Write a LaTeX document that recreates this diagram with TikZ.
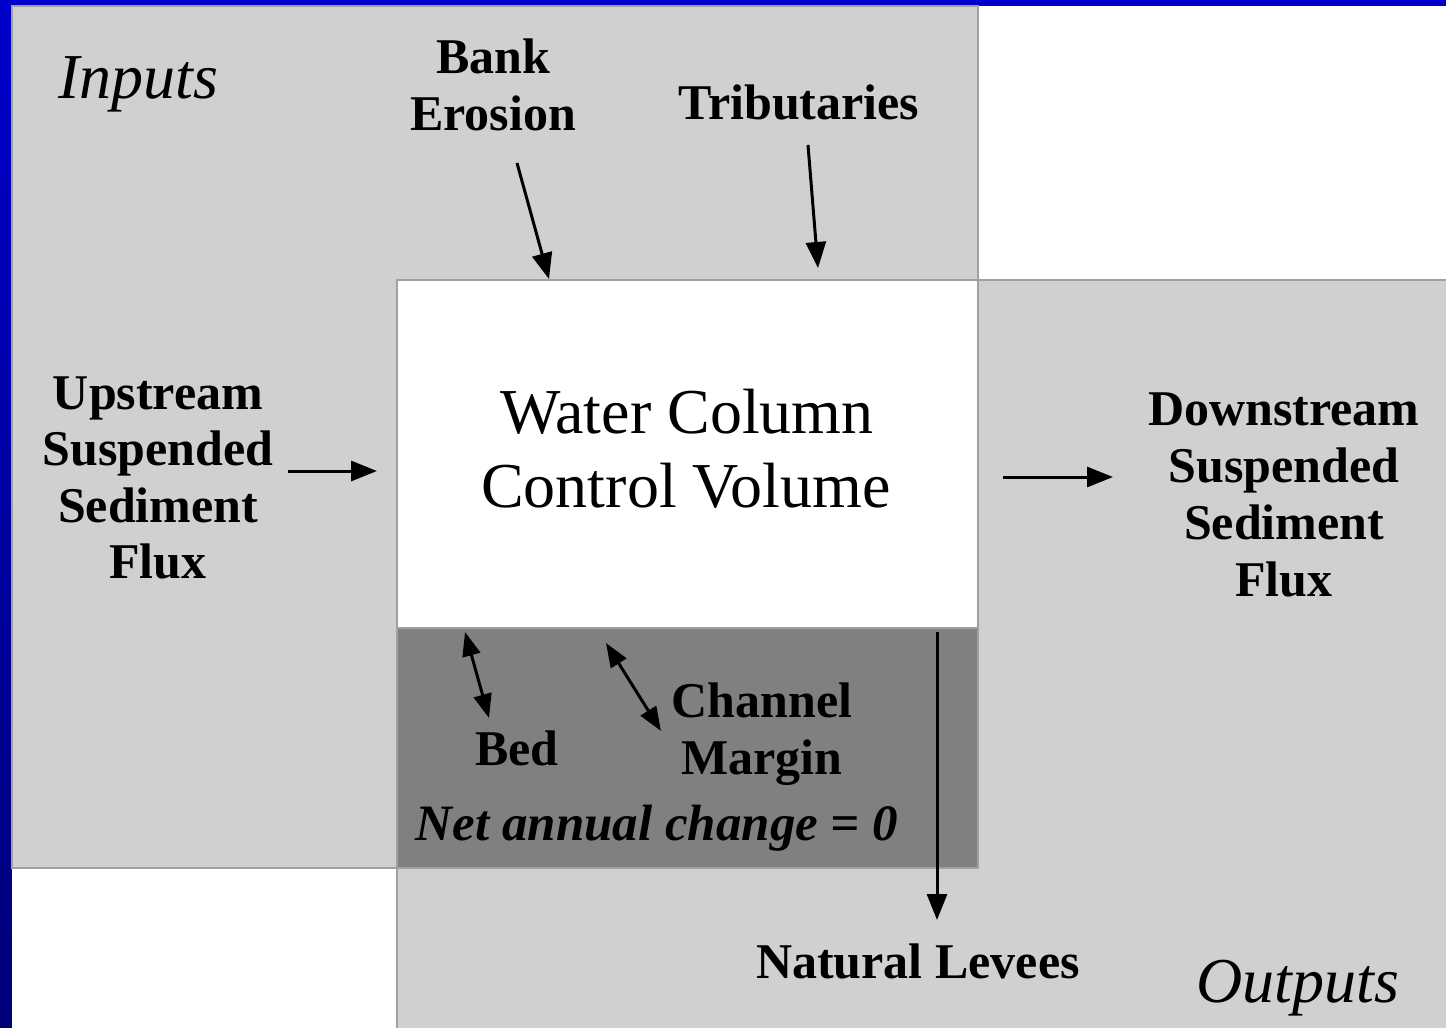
\documentclass[tikz,border=0pt]{standalone}
\usepackage{fontspec}
\setmainfont{Liberation Serif}
\usetikzlibrary{arrows.meta}
\definecolor{panel}{RGB}{208,208,208}
\definecolor{panelline}{RGB}{160,160,160}
\definecolor{darkpanel}{RGB}{128,128,128}
\definecolor{bluetop}{RGB}{0,0,204}
\definecolor{bluebot}{RGB}{0,0,120}
\tikzset{
  region/.style={fill=panel, draw=panelline, line width=1.2pt},
  lbl/.style={anchor=base, inner sep=0pt, font=\fontsize{50}{56}\selectfont\bfseries},
  big/.style={anchor=base, inner sep=0pt, font=\fontsize{64}{73}\selectfont},
  ital/.style={anchor=base, inner sep=0pt, font=\fontsize{64}{73}\selectfont\itshape},
  flow/.style={line width=3pt, -{Triangle[length=26pt,width=20pt]}},
  flow2/.style={line width=3pt, {Triangle[length=24pt,width=18pt]}-{Triangle[length=24pt,width=18pt]}}
}
\begin{document}
\begin{tikzpicture}[x=1pt,y=-1pt]
\useasboundingbox (0,0) rectangle (1446,1028);
\shade[top color=bluetop, bottom color=bluebot] (0,0) rectangle (1446,1028);
\fill[white] (12,6) rectangle (1446,1028);
% regions
\draw[region] (12,6) rectangle (978,868);
\draw[region] (397,280) rectangle (1452,1034);
\draw[fill=white, draw=panelline, line width=1.2pt] (397,280) rectangle (978,628);
\draw[fill=darkpanel, draw=panelline, line width=1.2pt] (397,628) rectangle (978,868);
% texts
\node[ital] (inputs) at (138,98) {Inputs};
\node[ital] (outputs) at (1298,1002) {Outputs};
\node[lbl] (bank1) at (493,73) {Bank};
\node[lbl] (bank2) at (493,130) {Erosion};
\node[lbl] (trib) at (799,119) {Tributaries};
\node[lbl] (up1) at (158,409) {Upstream};
\node[lbl] (up2) at (158,465) {Suspended};
\node[lbl] (up3) at (158,522) {Sediment};
\node[lbl] (up4) at (158,578) {Flux};
\node[big] (wc1) at (687,433) {Water Column};
\node[big] (wc2) at (686,507) {Control Volume};
\node[lbl] (dn1) at (1284,425) {Downstream};
\node[lbl] (dn2) at (1284,482) {Suspended};
\node[lbl] (dn3) at (1284,539) {Sediment};
\node[lbl] (dn4) at (1284,596) {Flux};
\node[lbl] (bed) at (517,765) {Bed};
\node[lbl] (cm1) at (762,717) {Channel};
\node[lbl] (cm2) at (762,774) {Margin};
\node[lbl, font=\fontsize{51}{56}\selectfont\bfseries\itshape] (net) at (657,840) {Net annual change = 0};
\node[lbl] (lev) at (918,978) {Natural Levees};
% arrow end points
\coordinate (bankS) at (517,163);
\coordinate (bankE) at (549,279);
\coordinate (tribS) at (808,145);
\coordinate (tribE) at (818,268);
\coordinate (upS) at (288,471);
\coordinate (upE) at (377,471);
\coordinate (dnS) at (1003,477);
\coordinate (dnE) at (1113,477);
\coordinate (bedS) at (465,632);
\coordinate (bedE) at (489,718);
\coordinate (cmS) at (606,643);
\coordinate (cmE) at (661,731);
\coordinate (levS) at (937,632);
\coordinate (levE) at (937,920);
\draw[flow] (bankS) -- (bankE);
\draw[flow] (tribS) -- (tribE);
\draw[flow] (upS) -- (upE);
\draw[flow] (dnS) -- (dnE);
\draw[flow2] (bedS) -- (bedE);
\draw[flow2] (cmS) -- (cmE);
\draw[flow] (levS) -- (levE);
\end{tikzpicture}
\end{document}
